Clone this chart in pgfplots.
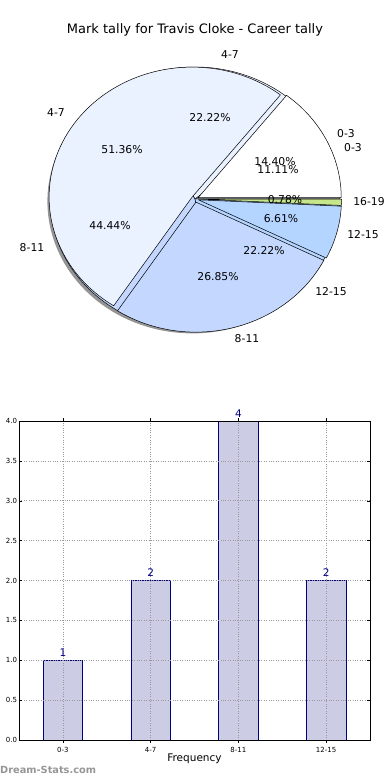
\documentclass[border=0pt]{standalone}
\usepackage{pgfplots}
\pgfplotsset{compat=1.18}
\usepackage{fontspec}
\setmainfont{DejaVu Sans}
\definecolor{c0}{RGB}{255,255,255}
\definecolor{c1}{RGB}{235,242,255}
\definecolor{c2}{RGB}{196,216,255}
\definecolor{c3}{RGB}{179,213,255}
\definecolor{c4}{RGB}{198,230,140}
\definecolor{barfill}{RGB}{204,204,229}
\definecolor{navyc}{RGB}{0,0,128}
\definecolor{wm}{RGB}{150,150,150}
% pie slice: cx cy rx ry startangle endangle colour explode
\newcommand\pieslice[8]{%
  \pgfmathsetmacro\pcx{#1+#8*#3*cos((#5+#6)/2)}%
  \pgfmathsetmacro\pcy{#2+#8*#4*sin((#5+#6)/2)}%
  \edef\doslice{\noexpand\addplot[draw=black, line width=0.5pt, line join=round, fill=#7, domain=#5:#6, samples=80, variable=\noexpand\t] ({\pcx+#3*cos(\noexpand\t)}, {\pcy+#4*sin(\noexpand\t)}) -- (axis cs:\pcx,\pcy) -- cycle;}%
  \doslice}
\begin{document}
\begin{tikzpicture}
\useasboundingbox (0pt,0pt) rectangle (390pt,780pt);
% back pie data: counts per mark band (1,2,4,2)
\pgfmathsetmacro\Ba{0}
\pgfmathsetmacro\Bb{\Ba+360*1/9}
\pgfmathsetmacro\Bc{\Bb+360*2/9}
\pgfmathsetmacro\Bd{\Bc+360*4/9}
\pgfmathsetmacro\Be{\Bd+360*2/9}
% front pie data: percentages 14.40, 51.36, 26.85, 6.61, 0.78
\pgfmathsetmacro\Fa{0}
\pgfmathsetmacro\Fb{\Fa+3.6*14.40}
\pgfmathsetmacro\Fc{\Fb+3.6*51.36}
\pgfmathsetmacro\Fd{\Fc+3.6*26.85}
\pgfmathsetmacro\Fe{\Fd+3.6*6.61}
\pgfmathsetmacro\Ff{\Fe+3.6*0.78}
\begin{axis}[at={(0pt,0pt)}, anchor=south west, scale only axis,
  width=390pt, height=780pt, xmin=0, xmax=390, ymin=0, ymax=780,
  hide axis, clip=false]
  % shadow
  \addplot[draw=none, fill=black!70, opacity=0.6, domain=0:360, samples=150, variable=\t]
    ({195-2.6+145*cos(t)}, {581-2.4+132*sin(t)}) -- cycle;
  % back pie
  \pieslice{195}{581}{145}{132}{\Ba}{\Bb}{c0}{0}
  \pieslice{195}{581}{145}{132}{\Bb}{\Bc}{c1}{0}
  \pieslice{195}{581}{145}{132}{\Bc}{\Bd}{c2}{0}
  \pieslice{195}{581}{145}{132}{\Bd}{\Be}{c3}{0}
  % front pie (exploded)
  \pieslice{195}{581}{143}{130}{\Fa}{\Fb}{c0}{0.025}
  \pieslice{195}{581}{143}{130}{\Fb}{\Fc}{c1}{0.025}
  \pieslice{195}{581}{143}{130}{\Fc}{\Fd}{c2}{0.025}
  \pieslice{195}{581}{143}{130}{\Fd}{\Fe}{c3}{0.025}
  \pieslice{195}{581}{143}{130}{\Fe}{\Ff}{c4}{0.025}
  % title
  \node[font=\fontsize{13}{15}\selectfont] at (axis cs:195,750) {Mark tally for Travis Cloke - Career tally};
  % labels
  \begin{scope}[every node/.style={font=\fontsize{10.8}{12}\selectfont, inner sep=0pt}]
  \node at (axis cs:346,646) {0-3};
  \node at (axis cs:353,632) {0-3};
  \node at (axis cs:230,725) {4-7};
  \node at (axis cs:56,667) {4-7};
  \node at (axis cs:32,532) {8-11};
  \node at (axis cs:247,441) {8-11};
  \node at (axis cs:363,545) {12-15};
  \node at (axis cs:331,488) {12-15};
  \node at (axis cs:369,578) {16-19};
  \node at (axis cs:275,618) {14.40\%};
  \node at (axis cs:278,610) {11.11\%};
  \node at (axis cs:122,630) {51.36\%};
  \node at (axis cs:210,662) {22.22\%};
  \node at (axis cs:110,554) {44.44\%};
  \node at (axis cs:264,529) {22.22\%};
  \node at (axis cs:218,503) {26.85\%};
  \node at (axis cs:281,561) {6.61\%};
  \node at (axis cs:285,580) {0.78\%};
  \end{scope}
  \node[anchor=west, font=\bfseries\fontsize{9.8}{12}\selectfont, text=wm, inner sep=0pt] at (axis cs:0,10) {Dream-Stats.com};
\end{axis}
\begin{axis}[at={(19pt,40pt)}, anchor=south west, scale only axis,
  width=351pt, height=319pt,
  xmin=-0.5, xmax=3.5, ymin=0, ymax=4,
  xtick={0,1,2,3}, xticklabels={0-3,4-7,8-11,12-15},
  ytick={0,0.5,1,1.5,2,2.5,3,3.5,4},
  tick label style={font=\fontsize{7}{8}\selectfont},
  yticklabel style={xshift=1.5pt, /pgf/number format/.cd, fixed, fixed zerofill, precision=1, assume math mode=true},
  xticklabel style={yshift=-0.5pt},
  grid=major, grid style={dotted, black!40, line width=0.7pt},
  tick align=inside, tick pos=both, major tick length=3pt,
  tick style={black, line width=0.5pt},
  axis line style={black, line width=0.8pt},
  axis on top,
  xlabel={Frequency}, xlabel style={font=\fontsize{10.5}{12}\selectfont, yshift=5pt},
  ybar, bar width=0.45,
  nodes near coords,
  nodes near coords style={font=\fontsize{10.5}{12}\selectfont, text=navyc, /pgf/number format/assume math mode=true}]
  \addplot[fill=barfill, draw=navyc, line width=0.7pt] coordinates {(0,1) (1,2) (2,4) (3,2)};
\end{axis}
\end{tikzpicture}
\end{document}
